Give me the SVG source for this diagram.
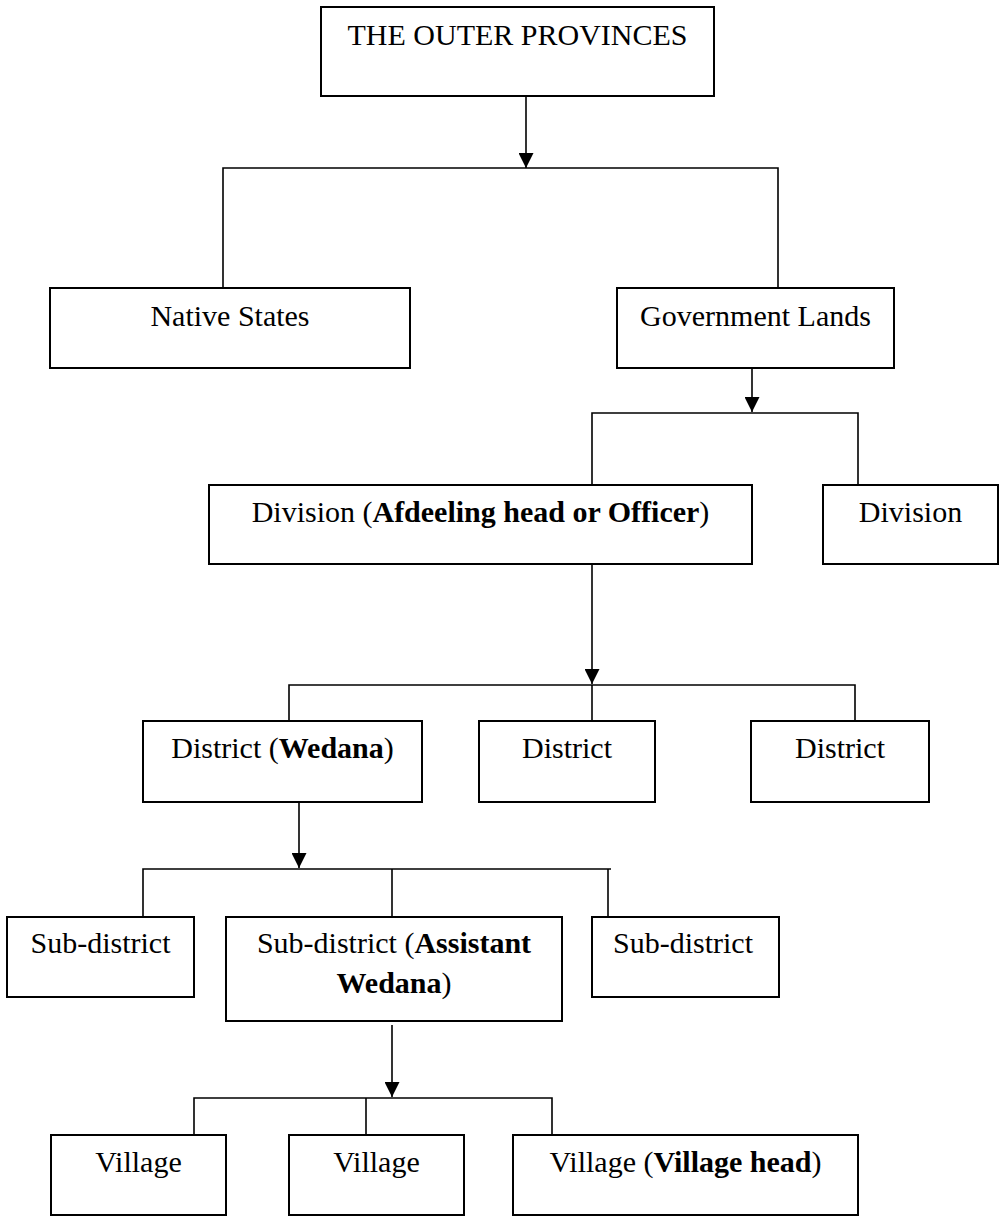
<svg xmlns="http://www.w3.org/2000/svg" width="1001" height="1216" viewBox="0 0 1001 1216">
  <style>
    .box { fill: #ffffff; stroke: #000000; stroke-width: 2; }
    .lbl { font-family: "Liberation Serif", "Times New Roman", serif; font-size: 30px; fill: #000000; text-anchor: middle; }
    .b { font-weight: bold; }
    .conn { fill: none; stroke: #000000; stroke-width: 1.6; }
  </style>
  <defs>
    <marker id="arrow" viewBox="0 0 15 15" refX="15" refY="7.5" markerWidth="15" markerHeight="15" orient="auto" markerUnits="userSpaceOnUse">
      <path d="M0,0 L15,7.5 L0,15 z" fill="#000000"/>
    </marker>
  </defs>
  <rect width="1001" height="1216" fill="#ffffff"/>

  <g id="connectors">
    <line class="conn" x1="526" y1="96" x2="526" y2="168" marker-end="url(#arrow)"/>
    <polyline class="conn" points="223,288 223,168 778,168 778,288"/>

    <line class="conn" x1="752" y1="368" x2="752" y2="412" marker-end="url(#arrow)"/>
    <polyline class="conn" points="592,485 592,413 858,413 858,485"/>

    <line class="conn" x1="592" y1="564" x2="592" y2="684" marker-end="url(#arrow)"/>
    <polyline class="conn" points="289,721 289,685 855,685 855,721"/>
    <line class="conn" x1="592" y1="685" x2="592" y2="721"/>

    <line class="conn" x1="299" y1="802" x2="299" y2="868" marker-end="url(#arrow)"/>
    <polyline class="conn" points="143,917 143,869 611,869"/>
    <line class="conn" x1="392" y1="869" x2="392" y2="917"/>
    <line class="conn" x1="608" y1="869" x2="608" y2="917"/>

    <line class="conn" x1="392" y1="1025" x2="392" y2="1097" marker-end="url(#arrow)"/>
    <polyline class="conn" points="194,1135 194,1098 552,1098 552,1137"/>
    <line class="conn" x1="366" y1="1098" x2="366" y2="1135"/>
  </g>

  <g id="outer-provinces">
    <rect class="box" x="321" y="7" width="393" height="89"/>
    <text class="lbl" x="517.5" y="45">THE OUTER PROVINCES</text>
  </g>

  <g id="native-states">
    <rect class="box" x="50" y="288" width="360" height="80"/>
    <text class="lbl" x="230" y="326">Native States</text>
  </g>

  <g id="government-lands">
    <rect class="box" x="617" y="288" width="277" height="80"/>
    <text class="lbl" x="755.5" y="326">Government Lands</text>
  </g>

  <g id="division-main">
    <rect class="box" x="209" y="485" width="543" height="79"/>
    <text class="lbl" x="480.5" y="522">Division (<tspan class="b">Afdeeling head or Officer</tspan>)</text>
  </g>

  <g id="division-2">
    <rect class="box" x="823" y="485" width="175" height="79"/>
    <text class="lbl" x="910.5" y="522">Division</text>
  </g>

  <g id="district-wedana">
    <rect class="box" x="143" y="721" width="279" height="81"/>
    <text class="lbl" x="282.5" y="758">District (<tspan class="b">Wedana</tspan>)</text>
  </g>

  <g id="district-2">
    <rect class="box" x="479" y="721" width="176" height="81"/>
    <text class="lbl" x="567" y="758">District</text>
  </g>

  <g id="district-3">
    <rect class="box" x="751" y="721" width="178" height="81"/>
    <text class="lbl" x="840" y="758">District</text>
  </g>

  <g id="subdistrict-1">
    <rect class="box" x="7" y="917" width="187" height="80"/>
    <text class="lbl" x="100.5" y="953">Sub-district</text>
  </g>

  <g id="subdistrict-assistant">
    <rect class="box" x="226" y="917" width="336" height="104"/>
    <text class="lbl" x="394" y="953">Sub-district (<tspan class="b">Assistant</tspan></text>
    <text class="lbl" x="394" y="993"><tspan class="b">Wedana</tspan>)</text>
  </g>

  <g id="subdistrict-3">
    <rect class="box" x="592" y="917" width="187" height="80"/>
    <text class="lbl" x="683" y="953">Sub-district</text>
  </g>

  <g id="village-1">
    <rect class="box" x="51" y="1135" width="175" height="80"/>
    <text class="lbl" x="138.5" y="1172">Village</text>
  </g>

  <g id="village-2">
    <rect class="box" x="289" y="1135" width="175" height="80"/>
    <text class="lbl" x="376.5" y="1172">Village</text>
  </g>

  <g id="village-head">
    <rect class="box" x="513" y="1135" width="345" height="80"/>
    <text class="lbl" x="685.5" y="1172">Village (<tspan class="b">Village head</tspan>)</text>
  </g>
</svg>
